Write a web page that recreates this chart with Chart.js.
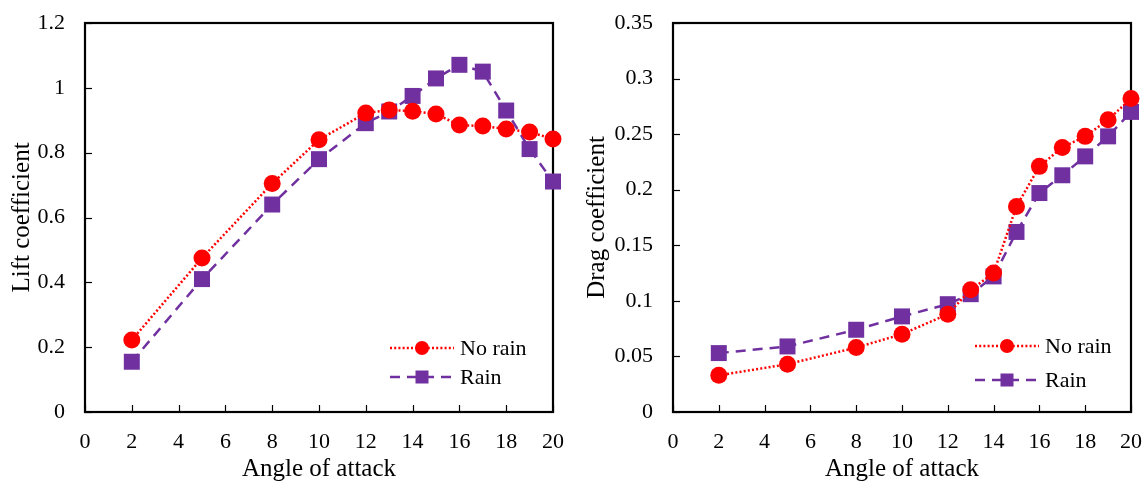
<!DOCTYPE html>
<html>
<head>
<meta charset="utf-8">
<script src="https://cdn.jsdelivr.net/npm/chart.js@4/dist/chart.umd.min.js"></script>
<style>
  html, body { margin: 0; padding: 0; background: #fff; overflow: hidden; }
  .wrap { position: absolute; top: 0; height: 482px; }
  #w1 { left: 0; width: 575px; }
  #w2 { left: 575px; width: 570px; }
</style>
</head>
<body>
<div class="wrap" id="w1"><canvas id="c1" width="575" height="482"></canvas></div>
<div class="wrap" id="w2"><canvas id="c2" width="570" height="482"></canvas></div>
<script>
const angles = [2, 5, 8, 10, 12, 13, 14, 15, 16, 17, 18, 19, 20];
const liftNoRain = [0.222, 0.475, 0.705, 0.84, 0.922, 0.932, 0.928, 0.919, 0.885, 0.882, 0.873, 0.864, 0.842];
const liftRain   = [0.155, 0.41, 0.64, 0.78, 0.891, 0.927, 0.975, 1.029, 1.071, 1.05, 0.93, 0.811, 0.711];
const dragNoRain = [0.033, 0.043, 0.058, 0.070, 0.088, 0.110, 0.125, 0.185, 0.221, 0.238, 0.248, 0.263, 0.282];
const dragRain   = [0.053, 0.059, 0.074, 0.086, 0.097, 0.106, 0.122, 0.162, 0.197, 0.213, 0.230, 0.248, 0.270];
const seriesNames = ['No rain', 'Rain'];
const xTitle = 'Angle of attack';
const liftTitle = 'Lift coefficient';
const dragTitle = 'Drag coefficient';

const RED = '#FF0000';
const PURPLE = '#7030A0';
const FONT = "'Liberation Serif', 'Times New Roman', serif";

function pts(ys) { return angles.map((x, i) => ({ x: x, y: ys[i] })); }

const frame = {
  id: 'frame',
  beforeDatasetsDraw(chart) {
    const ctx = chart.ctx, a = chart.chartArea;
    const xs = chart.scales.x, ys = chart.scales.y;
    ctx.save();
    ctx.strokeStyle = '#000';
    ctx.lineWidth = 1.2;
    xs.ticks.forEach(t => {
      const px = Math.round(xs.getPixelForValue(t.value)) + 0.5;
      ctx.beginPath(); ctx.moveTo(px, a.bottom); ctx.lineTo(px, a.bottom - 7); ctx.stroke();
    });
    ys.ticks.forEach(t => {
      const py = Math.round(ys.getPixelForValue(t.value)) + 0.5;
      ctx.beginPath(); ctx.moveTo(a.left, py); ctx.lineTo(a.left + 7, py); ctx.stroke();
    });
    ctx.lineWidth = 2.2;
    ctx.strokeRect(a.left, a.top, a.right - a.left, a.bottom - a.top);
    ctx.restore();
  }
};

function legendPlugin(pos) {
  return {
    id: 'inlegend',
    afterDraw(chart) {
      const ctx = chart.ctx;
      ctx.save();
      chart.data.datasets.forEach((ds, i) => {
        const y = pos.y[i];
        ctx.strokeStyle = ds.borderColor;
        ctx.lineWidth = ds.borderWidth;
        ctx.setLineDash(ds.borderDash);
        ctx.beginPath(); ctx.moveTo(pos.x0, y); ctx.lineTo(pos.x1, y); ctx.stroke();
        ctx.setLineDash([]);
        ctx.fillStyle = ds.backgroundColor;
        const mx = (pos.x0 + pos.x1) / 2;
        if (ds.pointStyle === 'circle') {
          ctx.beginPath(); ctx.arc(mx, y, 7, 0, Math.PI * 2); ctx.fill();
        } else {
          ctx.fillRect(mx - 6.5, y - 6.5, 13, 13);
        }
        ctx.fillStyle = '#000';
        ctx.font = '22px ' + FONT;
        ctx.textBaseline = 'middle';
        ctx.textAlign = 'left';
        ctx.fillText(ds.label, pos.tx, y + 1);
      });
      ctx.restore();
    }
  };
}

function makeChart(id, yA, yB, yMax, yStep, yTitle, leftW, rightPad, leg, fmt) {
  return new Chart(document.getElementById(id), {
    type: 'line',
    data: {
      datasets: [
        { label: seriesNames[0], data: pts(yA), borderColor: RED, backgroundColor: RED,
          borderWidth: 2.5, borderDash: [2, 2.2], pointStyle: 'circle', pointRadius: 8.5,
          pointBorderWidth: 0, pointBackgroundColor: RED, clip: false, tension: 0 },
        { label: seriesNames[1], data: pts(yB), borderColor: PURPLE, backgroundColor: PURPLE,
          borderWidth: 2.5, borderDash: [10, 7], pointStyle: 'rect', pointRadius: 11.3,
          pointBorderWidth: 0, pointBackgroundColor: PURPLE, clip: false, tension: 0 }
      ]
    },
    options: {
      responsive: false,
      animation: false,
      devicePixelRatio: 1,
      layout: { padding: { top: 23, right: rightPad, left: 0, bottom: 0 } },
      plugins: { legend: { display: false }, tooltip: { enabled: false } },
      scales: {
        x: {
          type: 'linear', min: 0, max: 20,
          ticks: { stepSize: 2, color: '#000', font: { family: FONT, size: 22 }, padding: 17, maxRotation: 0, autoSkip: false },
          grid: { display: false, drawTicks: false }, border: { display: false },
          title: { display: true, text: xTitle, color: '#000', font: { family: FONT, size: 25, lineHeight: 1 }, padding: { top: 0, bottom: 0 } },
          afterFit(s) { s.height = 70; s.paddingLeft = 0; s.paddingRight = 0; }
        },
        y: {
          type: 'linear', min: 0, max: yMax,
          ticks: { stepSize: yStep, color: '#000', font: { family: FONT, size: 22 }, padding: 20,
                   callback: v => fmt(v) },
          grid: { display: false, drawTicks: false }, border: { display: false },
          title: { display: true, text: yTitle, color: '#000', font: { family: FONT, size: 25 }, padding: { top: 7, bottom: 0 } },
          afterFit(s) { s.width = leftW; s.paddingTop = 0; s.paddingBottom = 0; }
        }
      }
    },
    plugins: [frame, legendPlugin(leg)]
  });
}

const fmt = v => String(Number(v.toFixed(2)));
makeChart('c1', liftNoRain, liftRain, 1.2, 0.2, liftTitle, 85, 22,
  { x0: 390, x1: 454, tx: 460, y: [348, 377] }, fmt);
makeChart('c2', dragNoRain, dragRain, 0.35, 0.05, dragTitle, 98, 14,
  { x0: 400, x1: 464, tx: 470, y: [346, 380] }, fmt);
</script>
</body>
</html>
